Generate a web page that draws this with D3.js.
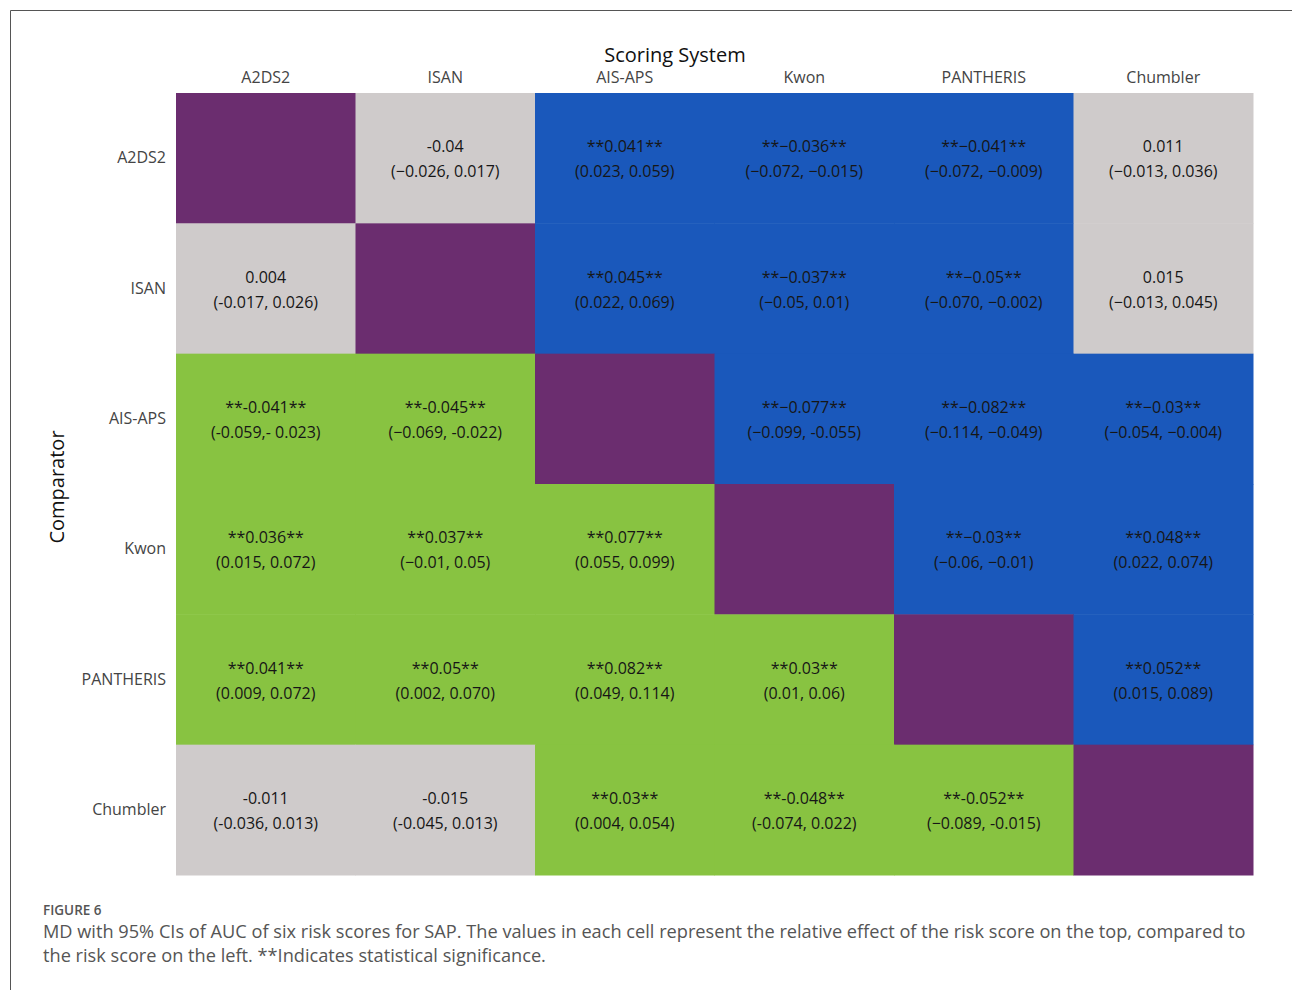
<!DOCTYPE html>
<html>
<head>
<meta charset="utf-8">
<script src="https://cdn.jsdelivr.net/npm/d3@7"></script>
<style>
  body { margin: 0; background: #fff; }
  svg text { font-family: "Open Sans", "Noto Sans", sans-serif; }
</style>
</head>
<body>
<div id="chart"></div>
<script>
// scoring systems (columns) and comparators (rows) share the same list
const scores = ["A2DS2", "ISAN", "AIS-APS", "Kwon", "PANTHERIS", "Chumbler"];

// mean difference as printed in each cell, row = comparator, col = scoring system
const mdText = [
  [null, "-0.04", "0.041", "\u22120.036", "\u22120.041", "0.011"],
  ["0.004", null, "0.045", "\u22120.037", "\u22120.05", "0.015"],
  ["-0.041", "-0.045", null, "\u22120.077", "\u22120.082", "\u22120.03"],
  ["0.036", "0.037", "0.077", null, "\u22120.03", "0.048"],
  ["0.041", "0.05", "0.082", "0.03", null, "0.052"],
  ["-0.011", "-0.015", "0.03", "-0.048", "-0.052", null]
];

// 95% CI as printed
const ciText = [
  [null, "(\u22120.026, 0.017)", "(0.023, 0.059)", "(\u22120.072, \u22120.015)", "(\u22120.072, \u22120.009)", "(\u22120.013, 0.036)"],
  ["(-0.017, 0.026)", null, "(0.022, 0.069)", "(\u22120.05, 0.01)", "(\u22120.070, \u22120.002)", "(\u22120.013, 0.045)"],
  ["(-0.059,- 0.023)", "(\u22120.069, -0.022)", null, "(\u22120.099, -0.055)", "(\u22120.114, \u22120.049)", "(\u22120.054, \u22120.004)"],
  ["(0.015, 0.072)", "(\u22120.01, 0.05)", "(0.055, 0.099)", null, "(\u22120.06, \u22120.01)", "(0.022, 0.074)"],
  ["(0.009, 0.072)", "(0.002, 0.070)", "(0.049, 0.114)", "(0.01, 0.06)", null, "(0.015, 0.089)"],
  ["(-0.036, 0.013)", "(-0.045, 0.013)", "(0.004, 0.054)", "(-0.074, 0.022)", "(\u22120.089, -0.015)", null]
];

// 1 = statistically significant (marked with **)
const significant = [
  [0, 0, 1, 1, 1, 0],
  [0, 0, 1, 1, 1, 0],
  [1, 1, 0, 1, 1, 1],
  [1, 1, 1, 0, 1, 1],
  [1, 1, 1, 1, 0, 1],
  [0, 0, 1, 1, 1, 0]
];

const captionTitle = "FIGURE 6";
const captionLines = [
  "MD with 95% CIs of AUC of six risk scores for SAP. The values in each cell represent the relative effect of the risk score on the top, compared to",
  "the risk score on the left. **Indicates statistical significance."
];

const W = 1292, H = 990;
const grid = {left: 176, top: 93, right: 1253, bottom: 875};

const colors = {diag: "#6b2d6f", ns: "#cfcbcb", upper: "#1a58bb", lower: "#88c341"};

const svg = d3.select("#chart").append("svg")
  .attr("width", W)
  .attr("height", H);

// frame line of the figure panel
svg.append("path")
  .attr("d", "M 10.5 " + H + " V 10.5 H " + W)
  .attr("fill", "none")
  .attr("stroke", "#555")
  .attr("stroke-width", 1);

const x = d3.scaleBand().domain(scores).range([grid.left, grid.right]);
const y = d3.scaleBand().domain(scores).range([grid.top, grid.bottom]);

var cells = [];
for (var r = 0; r < scores.length; r++) {
  for (var c = 0; c < scores.length; c++) {
    cells.push({row: scores[r], col: scores[c], r: r, c: c,
      md: mdText[r][c], ci: ciText[r][c], sig: significant[r][c]});
  }
}

function cellColor(d) {
  if (d.r === d.c) return colors.diag;
  if (!d.sig) return colors.ns;
  return d.c > d.r ? colors.upper : colors.lower;
}

const g = svg.append("g");
g.selectAll("rect")
  .data(cells)
  .join("rect")
  .attr("x", d => x(d.col))
  .attr("y", d => y(d.row))
  .attr("width", x.bandwidth() + 0.5)
  .attr("height", y.bandwidth() + 0.5)
  .attr("fill", cellColor);

const labels = g.selectAll("g.lbl")
  .data(cells.filter(d => d.md !== null))
  .join("g")
  .attr("class", "lbl")
  .attr("transform", d => "translate(" + (x(d.col) + x.bandwidth() / 2) + "," + (y(d.row) + y.bandwidth() / 2) + ")");

labels.append("text")
  .attr("text-anchor", "middle")
  .attr("y", -6)
  .attr("font-size", 16)
  .attr("fill", "#161616")
  .text(d => d.sig ? "**" + d.md + "**" : d.md);

labels.append("text")
  .attr("text-anchor", "middle")
  .attr("y", 19)
  .attr("font-size", 16)
  .attr("fill", "#161616")
  .text(d => d.ci);

// column axis on top
const xAxis = svg.append("g")
  .attr("transform", "translate(0," + grid.top + ")")
  .call(d3.axisTop(x).tickSize(0).tickPadding(10));
xAxis.select(".domain").remove();
xAxis.selectAll("text")
  .attr("font-size", 16)
  .attr("fill", "#444")
  .style("font-family", "'Open Sans', sans-serif");

// row axis on the left
const yAxis = svg.append("g")
  .attr("transform", "translate(" + (grid.left - 10) + ",0)")
  .call(d3.axisLeft(y).tickSize(0).tickPadding(0));
yAxis.select(".domain").remove();
yAxis.selectAll("text")
  .attr("font-size", 16)
  .attr("fill", "#444")
  .style("font-family", "'Open Sans', sans-serif");

svg.append("text")
  .attr("x", 675)
  .attr("y", 62)
  .attr("text-anchor", "middle")
  .attr("font-size", 20)
  .attr("fill", "#111")
  .text("Scoring System");

svg.append("text")
  .attr("transform", "translate(64,487) rotate(-90)")
  .attr("text-anchor", "middle")
  .attr("font-size", 20)
  .attr("fill", "#111")
  .text("Comparator");

// caption
svg.append("text")
  .attr("x", 43)
  .attr("y", 915)
  .attr("font-size", 13.5)
  .attr("font-weight", 600)
  .attr("fill", "#555")
  .text(captionTitle);

svg.selectAll("text.cap")
  .data(captionLines)
  .join("text")
  .attr("class", "cap")
  .attr("x", 43)
  .attr("y", (d, i) => 938 + i * 24)
  .attr("font-size", 18.2)
  .attr("fill", "#555")
  .text(d => d);
</script>
</body>
</html>
